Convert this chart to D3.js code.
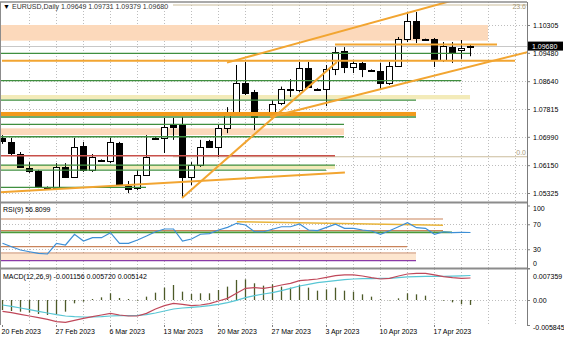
<!DOCTYPE html>
<html>
<head>
<meta charset="utf-8">
<script src="https://cdn.jsdelivr.net/npm/d3@7"></script>
<style>
  body { margin: 0; background: #fff; }
  svg { display: block; font-family: "Liberation Sans", Arial, sans-serif; }
  .ax text { font-size: 7px; fill: #000; }
  .ax line { stroke: #808080; }
  .lbl { font-size: 7px; fill: #000; }
</style>
</head>
<body>
<svg id="chart" width="564" height="338"></svg>
<script>
/* globals d3 */

// week starts shown on the time axis (bar index, label); broker has Sunday bars -> 6 per week
var weekBars = [0, 6, 12, 18, 24, 30, 36, 42, 48];
var weekLabels = ['20 Feb 2023', '27 Feb 2023', '6 Mar 2023', '13 Mar 2023', '20 Mar 2023',
  '27 Mar 2023', '3 Apr 2023', '10 Apr 2023', '17 Apr 2023'];

// EURUSD daily
var open = [1.0696, 1.0684, 1.0648, 1.0607, 1.0598, 1.0551, 1.0547, 1.0610, 1.0580, 1.0672,
  1.0601, 1.0631, 1.0627, 1.0681, 1.0553, 1.0547, 1.0586, 1.0697, 1.0696, 1.0734,
  1.0734, 1.0580, 1.0615, 1.0687, 1.0669, 1.0725, 1.0770, 1.0859, 1.0832, 1.0770,
  1.0764, 1.0799, 1.0841, 1.0838, 1.0903, 1.0842, 1.0841, 1.0900, 1.0953, 1.0906,
  1.0918, 1.0898, 1.0894, 1.0859, 1.0909, 1.0989, 1.1042, 1.0989, 1.0989, 1.0927,
  1.0965, 1.0956, 1.09649];
var high = [1.0704, 1.0696, 1.0654, 1.0624, 1.0601, 1.0552, 1.0621, 1.0621, 1.0696, 1.0684,
  1.0648, 1.0632, 1.0696, 1.0684, 1.0568, 1.0601, 1.0704, 1.0698, 1.0755, 1.0755,
  1.0758, 1.0624, 1.0690, 1.0690, 1.0734, 1.0787, 1.0912, 1.0921, 1.0838, 1.0771,
  1.0808, 1.0848, 1.0870, 1.0921, 1.0921, 1.0843, 1.0912, 1.0965, 1.0965, 1.0927,
  1.0921, 1.0899, 1.0918, 1.0921, 1.0995, 1.1066, 1.1069, 1.0990, 1.0992, 1.0980,
  1.0980, 1.0986, 1.09731];
var low = [1.0678, 1.0642, 1.0607, 1.0592, 1.0547, 1.0548, 1.0541, 1.0577, 1.0577, 1.0595,
  1.0595, 1.0630, 1.0621, 1.0556, 1.0532, 1.0541, 1.0583, 1.0695, 1.0651, 1.0690,
  1.0518, 1.0556, 1.0610, 1.0668, 1.0639, 1.0710, 1.0764, 1.0823, 1.0719, 1.0768,
  1.0758, 1.0793, 1.0817, 1.0832, 1.0844, 1.0839, 1.0790, 1.0882, 1.0888, 1.0888,
  1.0876, 1.0896, 1.0838, 1.0853, 1.0906, 1.0980, 1.0977, 1.0987, 1.0906, 1.0921,
  1.0918, 1.0930, 1.09379];
var close = [1.0687, 1.0651, 1.0610, 1.0598, 1.0550, 1.0550, 1.0610, 1.0580, 1.0669, 1.0601,
  1.0639, 1.0631, 1.0684, 1.0559, 1.0544, 1.0586, 1.0639, 1.0696, 1.0728, 1.0728,
  1.0580, 1.0615, 1.0669, 1.0669, 1.0725, 1.0770, 1.0859, 1.0829, 1.0758, 1.0769,
  1.0796, 1.0841, 1.0840, 1.0903, 1.0847, 1.0840, 1.0900, 1.0950, 1.0906, 1.0918,
  1.0900, 1.0897, 1.0859, 1.0909, 1.0989, 1.1042, 1.0992, 1.0988, 1.0927, 1.0968,
  1.0950, 1.0962, 1.09680];

var rsi = [39.5, 34, 28.8, 26, 23.5, 22.4, 39.5, 36.8, 54, 43.2,
  48.5, 48.5, 56.5, 39.5, 39.5, 44.8, 51.2, 58, 62.4, 62.4,
  43.2, 46.4, 54, 55, 60.8, 65, 71.5, 68.8, 58, 58,
  62, 66, 66, 70.4, 60.8, 59.7, 65, 70, 63.5, 63.5,
  60.8, 59.2, 54, 59.7, 66, 72.5, 64.5, 63.5, 54, 58,
  56.5, 57, 56.8099];

var macdMain = [-0.00265, -0.00296, -0.00335, -0.00374, -0.00413, -0.00452, -0.00507, -0.00522, -0.00476, -0.00429,
  -0.00390, -0.00351, -0.00312, -0.00351, -0.00374, -0.00374, -0.00312, -0.00210, -0.00132, -0.00078,
  -0.00101, -0.00132, -0.00117, -0.00086, -0.00023, 0.00039, 0.00156, 0.00273, 0.00288, 0.00273,
  0.00304, 0.00351, 0.00390, 0.00452, 0.00468, 0.00491, 0.00530, 0.00569, 0.00585, 0.00585,
  0.00561, 0.00522, 0.00491, 0.00507, 0.00561, 0.00608, 0.00624, 0.00624, 0.00585, 0.00546,
  0.00522, 0.00507, 0.005142];
var macdSignal = [-0.00117, -0.00148, -0.00187, -0.00226, -0.00265, -0.00304, -0.00343, -0.00374, -0.00390, -0.00398,
  -0.00398, -0.00390, -0.00374, -0.00366, -0.00366, -0.00358, -0.00343, -0.00304, -0.00257, -0.00210,
  -0.00187, -0.00171, -0.00156, -0.00132, -0.00101, -0.00062, -0.00008, 0.00055, 0.00101, 0.00140,
  0.00172, 0.00218, 0.00273, 0.00327, 0.00366, 0.00405, 0.00429, 0.00452, 0.00475, 0.00491,
  0.00499, 0.00499, 0.00507, 0.00507, 0.00522, 0.00538, 0.00546, 0.00553, 0.00553, 0.00553,
  0.00560, 0.00565, 0.005720];
var macdHist = [-0.00234, -0.00257, -0.00273, -0.00296, -0.00327, -0.00351, -0.00335, -0.00273, -0.00078, -0.00039,
  0.00023, 0.00062, 0.00156, 0.00047, 0.00023, -0.00016, 0.00078, 0.00171, 0.00288, 0.00351,
  0.00195, 0.00140, 0.00156, 0.00156, 0.00234, 0.00312, 0.00468, 0.00483, 0.00390, 0.00335,
  0.00366, 0.00312, 0.00288, 0.00351, 0.00288, 0.00218, 0.00249, 0.00288, 0.00218, 0.00195,
  0.00132, 0.00078, 0.00016, -0.00008, 0.00039, 0.00156, 0.00132, 0.00101, 0.00005, -0.00016,
  -0.00055, -0.00101, -0.001156];

var priceTicks = [1.05325, 1.06150, 1.06990, 1.07815, 1.08640, 1.09480, 1.10305];
var rsiTicks = [0, 30, 70, 100];
var macdTicks = [-0.005845, 0, 0.007359];
var bid = 1.09680;

// drawn objects: [price, endBar] or [top, bottom, endBar] or [bar1, p1, bar2, p2]
var greenLevels = [[1.09466, 52], [1.08654, 51], [1.08081, 46], [1.07578, 46], [1.07361, 38],
  [1.06993, 38], [1.06154, 37], [1.06005, 36], [1.05492, 16]];
var redLevels = [[1.06429, 37]];
var orangeLevels = [[1.09247, 0, 57], [1.09730, 37, 55]];
var peachZones = [[1.10305, 1.09840, 54], [1.07242, 1.07044, 38]];
var khakiZones = [[1.08230, 1.08102, 52], [1.06154, 1.06035, 37]];
var orangeBands = [[1.07727, 1.07607, 46]];
var trendLines = [[25, 1.0919, 51, 1.1110], [29.8, 1.0758, 58.4, 1.0950],
  [20, 1.0518, 37.2, 1.0921], [-0.2, 1.0535, 38.1, 1.0593]];
var fibLevels = [['0.0', 1.06400], ['23.6', 1.10898]];
var fibStart = 19;

var rsiBrown = [[78.4, 49], [59.7, 49], [34.1, 45], [24, 46]];
var rsiGreen = [[57.1, 50]];
var rsiPurple = [[11.7, 46]];
var rsiZones = [[22.4, 11.7, 46]];
var rsiTrend = [[26.1, 74.1, 49, 68.3]];

var svg = d3.select('#chart');
var right = 527;

var x = d3.scaleLinear().domain([0, 58]).range([2, 524]);
var y = d3.scaleLinear().domain([1.05325, 1.10305]).range([193, 25]);
var yR = d3.scaleLinear().domain([0, 100]).range([268, 205.5]);
var yM = d3.scaleLinear().domain([-0.005845, 0.007359]).range([325, 268.5]);

var panels = [
  { id: 'cMain', top: 2, bottom: 201 },
  { id: 'cRsi', top: 204, bottom: 268 },
  { id: 'cMacd', top: 269, bottom: 325 }
];

var defs = svg.append('defs');
panels.forEach(function (p) {
  defs.append('clipPath').attr('id', p.id).append('rect')
    .attr('x', 0).attr('y', p.top).attr('width', right).attr('height', p.bottom - p.top);
});

var gMain = svg.append('g').attr('clip-path', 'url(#cMain)');
var gRsi = svg.append('g').attr('clip-path', 'url(#cRsi)');
var gMacd = svg.append('g').attr('clip-path', 'url(#cMacd)');

// vertical grid every 3 bars
var gridBars = d3.range(3, 58, 3);
[gMain, gRsi, gMacd].forEach(function (g, k) {
  g.selectAll('line.vg').data(gridBars).join('line')
    .attr('class', 'vg')
    .attr('x1', function (d) { return x(d) + 0.5; })
    .attr('x2', function (d) { return x(d) + 0.5; })
    .attr('y1', panels[k].top).attr('y2', panels[k].bottom)
    .attr('stroke', '#bdbdbd').attr('stroke-dasharray', '1,2');
});

function hGrid(g, vals, sc) {
  g.selectAll(null).data(vals).join('line')
    .attr('x1', 0).attr('x2', right)
    .attr('y1', function (d) { return Math.round(sc(d)) + 0.5; })
    .attr('y2', function (d) { return Math.round(sc(d)) + 0.5; })
    .attr('stroke', '#bdbdbd').attr('stroke-dasharray', '1,2');
}
hGrid(gMain, priceTicks, y);
hGrid(gRsi, [30, 70], yR);
hGrid(gMacd, [0, -0.005845], yM);

// zones behind candles
function zones(g, data, sc, color) {
  g.selectAll(null).data(data).join('rect')
    .attr('x', 0)
    .attr('y', function (d) { return sc(d[0]); })
    .attr('width', function (d) { return x(d[2]); })
    .attr('height', function (d) { return sc(d[1]) - sc(d[0]); })
    .attr('fill', color);
}
zones(gMain, peachZones, y, '#fcd9bb');
zones(gMain, khakiZones, y, '#f3ebb9');

// fibonacci levels
gMain.selectAll(null).data(fibLevels).join('line')
  .attr('x1', x(fibStart)).attr('x2', right)
  .attr('y1', function (d) { return y(d[1]); })
  .attr('y2', function (d) { return y(d[1]); })
  .attr('stroke', '#cbbd9c').attr('stroke-width', 1.2);

// bid line
gMain.append('line')
  .attr('x1', 0).attr('x2', right)
  .attr('y1', Math.round(y(bid)) + 0.5).attr('y2', Math.round(y(bid)) + 0.5)
  .attr('stroke', '#c8c8c8');

// candles
var bars = d3.range(open.length);
var gC = gMain.append('g');
gC.selectAll('line').data(bars).join('line')
  .attr('x1', function (i) { return x(i) + 0.5; })
  .attr('x2', function (i) { return x(i) + 0.5; })
  .attr('y1', function (i) { return y(high[i]); })
  .attr('y2', function (i) { return y(low[i]); })
  .attr('stroke', '#000');
gC.selectAll('rect').data(bars).join('rect')
  .attr('x', function (i) { return x(i) - 2.5; })
  .attr('width', 6)
  .attr('y', function (i) { return Math.round(y(Math.max(open[i], close[i]))) + 0.5; })
  .attr('height', function (i) {
    return Math.max(1, Math.round(Math.abs(y(open[i]) - y(close[i]))));
  })
  .attr('fill', function (i) { return close[i] > open[i] ? '#fff' : '#000'; })
  .attr('stroke', '#000');

// horizontal levels over candles
function levels(g, data, sc, color, w) {
  g.selectAll(null).data(data).join('line')
    .attr('x1', 0).attr('x2', function (d) { return x(d[1]); })
    .attr('y1', function (d) { return sc(d[0]); })
    .attr('y2', function (d) { return sc(d[0]); })
    .attr('stroke', color).attr('stroke-width', w);
}
levels(gMain, redLevels, y, '#c8504a', 1.5);
levels(gMain, greenLevels, y, '#3f8f3f', 1.3);

gMain.selectAll(null).data(orangeBands).join('rect')
  .attr('x', 0)
  .attr('y', function (d) { return y(d[0]); })
  .attr('width', function (d) { return x(d[2]); })
  .attr('height', function (d) { return y(d[1]) - y(d[0]); })
  .attr('fill', '#f29a1c');

gMain.selectAll(null).data(orangeLevels).join('line')
  .attr('x1', function (d) { return x(d[1]); })
  .attr('x2', function (d) { return x(d[2]); })
  .attr('y1', function (d) { return y(d[0]); })
  .attr('y2', function (d) { return y(d[0]); })
  .attr('stroke', '#f2a531').attr('stroke-width', 2);

gMain.selectAll(null).data(trendLines).join('line')
  .attr('x1', function (d) { return x(d[0]); })
  .attr('y1', function (d) { return y(d[1]); })
  .attr('x2', function (d) { return x(d[2]); })
  .attr('y2', function (d) { return y(d[3]); })
  .attr('stroke', '#f2a531').attr('stroke-width', 2);

// level captions sit just above their line; the top one is kept inside the panel
svg.selectAll('text.fib').data(fibLevels).join('text')
  .attr('class', 'fib lbl')
  .attr('x', right - 1)
  .attr('y', function (d) { return Math.max(9, y(d[1]) - 1.5); })
  .attr('text-anchor', 'end')
  .style('fill', '#a89a7a')
  .text(function (d) { return d[0]; });

// RSI panel
zones(gRsi, rsiZones, yR, '#fde6cf');
levels(gRsi, rsiBrown, yR, '#c9835a', 1.2);
levels(gRsi, rsiGreen, yR, '#4a9a3a', 1.8);
levels(gRsi, rsiPurple, yR, '#8a3aa8', 1.2);
gRsi.selectAll(null).data(rsiTrend).join('line')
  .attr('x1', function (d) { return x(d[0]); })
  .attr('y1', function (d) { return yR(d[1]); })
  .attr('x2', function (d) { return x(d[2]); })
  .attr('y2', function (d) { return yR(d[3]); })
  .attr('stroke', '#e8b43a').attr('stroke-width', 1.5);
gRsi.append('path')
  .datum(rsi)
  .attr('fill', 'none').attr('stroke', '#3d8fd6').attr('stroke-width', 1.2)
  .attr('d', d3.line().x(function (d, i) { return x(i) + 0.5; }).y(function (d) { return yR(d); }));

// MACD panel
gMacd.selectAll('line.h').data(macdHist).join('line')
  .attr('class', 'h')
  .attr('x1', function (d, i) { return x(i) + 0.5; })
  .attr('x2', function (d, i) { return x(i) + 0.5; })
  .attr('y1', yM(0))
  .attr('y2', function (d) { return yM(d); })
  .attr('stroke', '#4d5a28').attr('stroke-width', 1.3);
gMacd.append('path').datum(macdSignal)
  .attr('fill', 'none').attr('stroke', '#58c6d4').attr('stroke-width', 1.2)
  .attr('d', d3.line().x(function (d, i) { return x(i) + 0.5; }).y(function (d) { return yM(d); }));
gMacd.append('path').datum(macdMain)
  .attr('fill', 'none').attr('stroke', '#c0485a').attr('stroke-width', 1.2)
  .attr('d', d3.line().x(function (d, i) { return x(i) + 0.5; }).y(function (d) { return yM(d); }));

// frame
svg.append('line').attr('x1', 0).attr('x2', right).attr('y1', 2).attr('y2', 2)
  .attr('stroke', '#8c8c8c').attr('stroke-width', 1.5);
svg.append('line').attr('x1', 0.5).attr('x2', 0.5).attr('y1', 2).attr('y2', 325)
  .attr('stroke', '#8c8c8c');
svg.append('line').attr('x1', right + 0.5).attr('x2', right + 0.5).attr('y1', 2).attr('y2', 325)
  .attr('stroke', '#7c7c7c');
[202.5, 268.5].forEach(function (sy) {
  svg.append('line').attr('x1', 0).attr('x2', right).attr('y1', sy).attr('y2', sy)
    .attr('stroke', '#8c8c8c').attr('stroke-width', 2);
});

// axes
function cleanAxis(g) {
  g.select('.domain').remove();
}
svg.append('g').attr('class', 'ax').attr('transform', 'translate(' + right + ',0)')
  .call(d3.axisRight(y).tickValues(priceTicks).tickSize(3).tickPadding(3).tickFormat(d3.format('.5f')))
  .call(cleanAxis);

svg.append('g').attr('class', 'ax').attr('transform', 'translate(' + right + ',0)')
  .call(d3.axisRight(yR).tickValues(rsiTicks).tickSize(3).tickPadding(3).tickFormat(d3.format('d')))
  .call(cleanAxis)
  .selectAll('text').attr('dy', function (d) { return d === 100 ? '0.7em' : d === 0 ? '-0.3em' : '0.32em'; });

svg.append('g').attr('class', 'ax').attr('transform', 'translate(' + right + ',0)')
  .call(d3.axisRight(yM).tickValues(macdTicks).tickSize(3).tickPadding(3)
    .tickFormat(function (d) { return d === 0 ? '0.00' : d.toFixed(6); }))
  .call(cleanAxis)
  .selectAll('text').attr('dy', function (d) { return d > 0 ? '1.4em' : d < 0 ? '0.6em' : '0.32em'; });

svg.append('g').attr('class', 'ax').attr('transform', 'translate(0,325)')
  .call(d3.axisBottom(x).tickValues(weekBars).tickSize(2).tickPadding(2)
    .tickFormat(function (d, i) { return weekLabels[i]; }))
  .call(cleanAxis)
  .selectAll('text').attr('text-anchor', 'start').attr('dx', -1);

// bid price marker
svg.append('rect').attr('x', right + 1).attr('y', y(bid) - 4.5).attr('width', 35).attr('height', 9)
  .attr('fill', '#000');
svg.append('text').attr('class', 'lbl').attr('x', right + 5).attr('y', y(bid) + 2.5)
  .style('fill', '#fff').text(d3.format('.5f')(bid));

// panel captions
svg.append('text').attr('class', 'lbl').attr('x', 3).attr('y', 9).text('\u25BC');
svg.append('text').attr('class', 'lbl').attr('x', 12).attr('y', 9)
  .style('fill', '#333')
  .text('EURUSD,Daily  ' + [open, high, low, close].map(function (a) {
    return d3.format('.5f')(a[a.length - 1]);
  }).join(' '));
svg.append('text').attr('class', 'lbl').attr('x', 3).attr('y', 212)
  .text('RSI(9) ' + rsi[rsi.length - 1].toFixed(4));
svg.append('text').attr('class', 'lbl').attr('x', 3).attr('y', 279)
  .text('MACD(12,26,9) ' + [macdHist, macdSignal, macdMain].map(function (a) {
    return a[a.length - 1].toFixed(6);
  }).join(' '));
</script>
</body>
</html>
